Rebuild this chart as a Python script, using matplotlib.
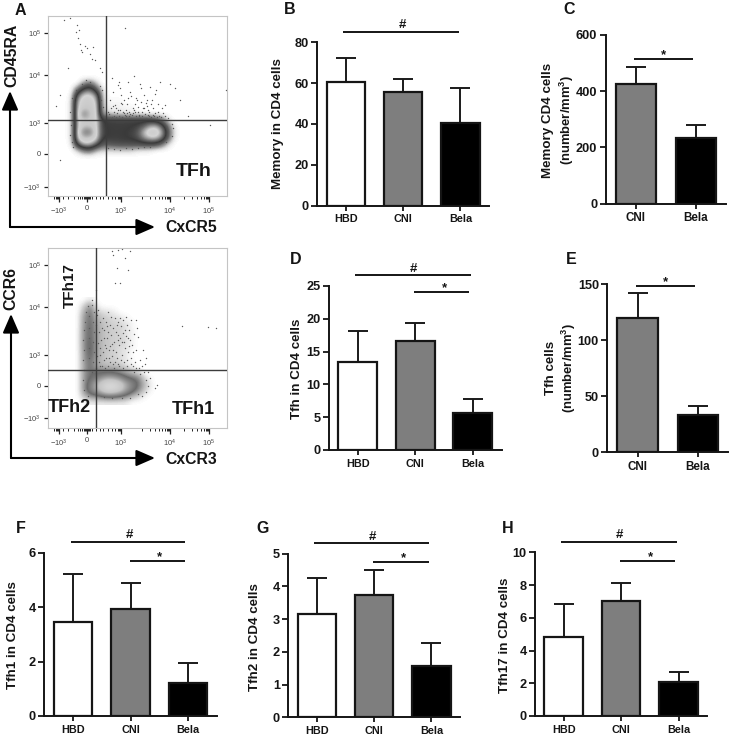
import matplotlib
matplotlib.use("Agg")
import matplotlib.pyplot as plt
from matplotlib.colors import LinearSegmentedColormap

W, H = 731, 736
plt.rcParams['font.family'] = ['Liberation Sans', 'DejaVu Sans']
plt.rcParams['font.weight'] = 'bold'
plt.rcParams['mathtext.fontset'] = 'custom'
plt.rcParams['mathtext.rm'] = 'Liberation Sans'
plt.rcParams['mathtext.bf'] = 'Liberation Sans:bold'
plt.rcParams['mathtext.default'] = 'regular'

groups3 = ['HBD', 'CNI', 'Bela']
groups2 = ['CNI', 'Bela']

memory_pct = [60.8, 55.5, 40.3]
memory_pct_top = [72.2, 62.0, 57.8]
memory_abs = [425, 232]
memory_abs_top = [487, 280]
tfh_pct = [13.4, 16.6, 5.7]
tfh_pct_top = [18.2, 19.3, 7.7]
tfh_abs = [120, 33.5]
tfh_abs_top = [142, 41.5]
tfh1_pct = [3.47, 3.92, 1.2]
tfh1_pct_top = [5.2, 4.87, 1.93]
tfh2_pct = [3.17, 3.75, 1.57]
tfh2_pct_top = [4.25, 4.5, 2.27]
tfh17_pct = [4.85, 7.0, 2.1]
tfh17_pct_top = [6.85, 8.1, 2.7]

# flow cytometry density (channel units, rows top to bottom)
tfh_x = (63, 183)
tfh_y = (75, 159)
tfh_density = [
 [0,0,0,0,0,0,0,0,0,0,0,0,0,0,0,0,0,0,0,0],
 [0,0,0,.2,.3,.1,0,0,0,0,0,0,0,0,0,0,0,0,0,0],
 [0,0,.3,.6,.7,.4,.05,0,0,0,0,0,0,0,0,0,0,0,0,0],
 [0,.03,.7,1,1,.8,.08,0,0,0,0,0,0,0,0,0,0,0,0,0],
 [0,.05,.9,1.05,1.05,.95,.1,.02,.02,.02,0,0,0,0,0,0,0,0,0,0],
 [0,.05,.95,1.1,1.1,1,.12,.03,.03,.03,.02,.02,0,0,0,0,0,0,0,0],
 [0,.05,.95,1.5,1.15,1,.2,.08,.06,.05,.04,.03,.02,.01,0,0,0,0,0,0],
 [0,.05,.95,1.1,1.1,1,.5,.48,.45,.45,.45,.45,.45,.45,.42,.35,.25,.05,0,0],
 [0,.05,.95,1.1,1.1,1,.52,.48,.48,.48,.48,.5,.52,.6,.8,.85,.6,.25,.02,0],
 [0,.05,.95,1.5,1.5,1,.55,.5,.48,.48,.5,.52,.6,.9,1.1,1.1,.85,.35,.05,0],
 [0,.05,.95,1.15,1.1,1,.5,.48,.48,.48,.5,.52,.58,.75,.9,.9,.7,.3,.03,0],
 [0,.03,.6,.9,.9,.65,.35,.35,.38,.4,.4,.4,.4,.42,.42,.4,.25,.06,0,0],
 [0,0,.08,.25,.3,.12,.08,.07,.08,.08,.08,.08,.04,.04,.03,0,0,0,0,0],
 [0,0,0,0,0,0,0,0,0,0,0,0,0,0,0,0,0,0,0,0],
]
tfh_events = [
 (64,20),(70,18),(76,32),(78,38),(80,44),(82,52),(85,46),(87,48),(90,54),(93,47),(95,60),(100,68),(77,25),(79,30),(81,50),(92,59),
 (125,28),(60,95),(56,106),(68,68),(102,72),(226,90),(210,125),(188,116),(60,160),
 (110,100),(113,92),(116,108),(119,82),(121,95),(123,112),(127,104),(129,112),(131,96),(133,108),(135,112),(137,100),(139,115),(141,88),(143,108),
 (145,114),(147,100),(149,112),(151,104),(153,115),(156,90),(159,116),(163,113),(114,116),(118,110),(122,104),(125,115),(129,116),(134,110),(139,116),
 (144,108),(149,116),(154,116),(112,78),(115,105),(118,85),(120,88),(124,100),(126,110),(128,82),(130,92),(132,115),(134,76),(136,98),(138,107),
 (140,84),(142,112),(144,95),(146,103),(148,110),(150,87),(152,100),(155,94),(158,112),(160,82),(162,108),(165,105),(170,84),(175,88),(180,100),
 (109,114),(111,108),(112,117),(114,112),(116,117),(117,113),(119,116),(120,110),(122,117),(124,113),(126,116),(127,113),(130,114),(131,118),(133,113),
 (136,116),(138,112),(140,118),(142,116),(146,118),(148,115),(151,117),(155,113),(157,117),(161,117),(165,116),(168,118),
 (108,112),(110,118),(113,106),(121,103),(128,98),(135,104),(141,102),(147,106),(153,108),(158,104),
 (72,98),(70,112),(71,125),(70,135),(72,142),(73,147),(101,100),(103,107),(102,90),(100,86),(90,82),(86,80),(82,84),(76,90),
 (108,148),(114,149),(120,150),(126,148),(132,149),(138,148),(144,147),(150,147),(160,143),(166,142),(172,136),(173,128),(172,124),
]
tfh_event_x = [p[0] for p in tfh_events]
tfh_event_y = [p[1] for p in tfh_events]

tfh_sub_x = (75, 159)
tfh_sub_y = (297, 405)
tfh_sub_density = [
 [0,0,.03,0,0,0,0,0,0,0,0,0,0,0],
 [0,.08,.22,.04,0,0,0,0,0,0,0,0,0,0],
 [0,.15,.3,.1,.06,.05,.03,0,0,0,0,0,0,0],
 [0,.2,.3,.16,.1,.08,.06,.05,.02,0,0,0,0,0],
 [0,.2,.32,.18,.12,.09,.08,.07,.05,.02,0,0,0,0],
 [0,.22,.32,.2,.12,.1,.08,.08,.05,.02,0,0,0,0],
 [0,.22,.32,.2,.12,.1,.08,.08,.05,.02,0,0,0,0],
 [0,.22,.34,.2,.12,.1,.08,.08,.06,.02,0,0,0,0],
 [0,.22,.34,.2,.12,.1,.08,.06,.05,.02,0,0,0,0],
 [0,.2,.34,.2,.12,.09,.08,.06,.04,0,0,0,0,0],
 [0,.2,.3,.18,.12,.09,.08,.06,.04,.01,0,0,0,0],
 [0,.18,.3,.18,.14,.12,.12,.1,.05,.02,0,0,0,0],
 [0,.2,.3,.28,.26,.26,.26,.22,.18,.12,.05,0,0,0],
 [0,.2,.3,.36,.5,.6,.55,.45,.32,.28,.25,.08,.01,0],
 [0,.2,.38,.6,.85,1,1,.85,.6,.42,.3,.15,.03,0],
 [0,.2,.4,.55,.8,1,.95,.8,.55,.38,.25,.1,.02,0],
 [0,.12,.22,.24,.3,.35,.35,.3,.24,.14,.08,.02,0,0],
 [0,0,.03,.03,.03,.03,.03,.03,.03,0,0,0,0,0],
]
sub_events = [
 (112,251),(118,250),(122,249),(113,255),(125,258),(117,268),(130,251),(115,283),(120,283),(128,270),(182,326),(208,327),(216,328),(92,300),(96,290),
 (98,310),(100,322),(104,330),(107,338),(110,325),(112,344),(115,318),(118,335),(121,326),(124,342),(126,317),(129,330),(131,320),(133,352),(136,320),
 (138,337),(140,360),(143,350),(146,358),(148,372),(150,378),(155,388),(157,385),(100,348),(103,352),(106,358),(110,362),(114,368),(118,340),(122,355),
 (127,360),(132,345),(135,362),(139,368),(97,315),(99,332),(101,340),(103,318),(105,345),(107,326),(108,312),(109,350),(111,335),(113,328),(114,342),
 (116,352),(117,325),(119,345),(120,318),(121,360),(123,333),(125,348),(127,325),(128,352),(130,340),(131,364),(134,334),(136,350),(137,328),(97,356),
 (99,362),(102,366),(104,360),(106,322),(108,366),(110,346),(112,356),(115,362),(117,358),(119,366),(122,342),(124,362),(126,336),(129,346),(133,366),
 (96,325),(98,343),(100,355),(102,328),(104,338),(106,348),(108,332),(111,317),(113,350),(116,332),(118,322),(120,338),(123,320),(125,330),(128,338),
 (96,368),(100,366),(105,368),(109,358),(113,364),(118,364),(123,368),(127,366),(131,358),(136,368),(142,366),(145,364),(144,372),(140,374),(134,372),
 (146,380),(148,386),(146,392),(142,396),(138,394),(130,398),(122,398),(112,398),(104,397),(96,396),(88,396),(84,390),(83,380),(84,370),(83,360),
 (84,350),(83,340),(84,330),(85,322),(86,312),(88,306),(92,305),(94,312),(93,322),(94,332),(93,342),(94,352),(93,362),(92,372),(89,316),(89,328),(89,338),(89,348),(89,358),
]
sub_event_x = [p[0] for p in sub_events]
sub_event_y = [p[1] for p in sub_events]

flow_tick_x = [59, 87, 121, 170, 209]
flow_tick_x_labels = [r'$-10^3$', '0', r'$10^3$', r'$10^4$', r'$10^5$']
flow_minor_x = [54,56,57,58,63,68,74,78,80,82,84,85,86,88,89,90,92,96,100,103,108,112,115,118,119,120,142,150,155,159,162,165,167,168,169,184,192,197,201,204,206,207,208]
tfh_tick_y = [187, 154, 123, 75, 33]
sub_tick_y = [418, 386, 355, 307, 265]
flow_tick_y_labels = [r'$-10^3$', '0', r'$10^3$', r'$10^4$', r'$10^5$']

density_cmap = LinearSegmentedColormap.from_list('flow', [
    (0.0, '#ffffff'), (0.03, '#e8e8e8'), (0.1, '#a0a0a0'), (0.2, '#606060'),
    (0.33, '#3a3a3a'), (0.45, '#707070'), (0.62, '#d4d4d4'), (0.75, '#c8c8c8'), (1.0, '#6e6e6e')])
sub_cmap = LinearSegmentedColormap.from_list('flow2', [
    (0.0, '#ffffff'), (0.08, '#d0d0d0'), (0.2, '#9a9a9a'), (0.3, '#6c6c6c'),
    (0.45, '#8c8c8c'), (0.7, '#c4c4c4'), (1.0, '#d8d8d8')])

fig = plt.figure(figsize=(W / 100, H / 100), dpi=100, facecolor='white')


def px_axes(left, right, top, bottom, **kw):
    return fig.add_axes([left / W, 1 - bottom / H, (right - left) / W, (bottom - top) / H], **kw)


def bar_panel(box, ymax, yticks, labels, vals, tops, colors, xtick_fs=7.8):
    left, right, top, bottom = box
    ax = px_axes(left, right, top, bottom, facecolor='none')
    xs = list(range(len(labels)))
    ax.errorbar(xs, vals, yerr=[[0] * len(vals), [t - v for t, v in zip(tops, vals)]], fmt='none',
                ecolor='#1a1a1a', elinewidth=1.4, capsize=7.2, capthick=1.4, zorder=1)
    ax.bar(xs, vals, width=0.67, color=colors, edgecolor='#151515', linewidth=1.6, zorder=2)
    ax.set_xlim(-0.5, len(labels) - 0.5)
    ax.set_ylim(0, ymax)
    ax.set_xticks(xs, labels, fontsize=xtick_fs + (0.6 if len(labels) == 2 else 0), fontweight='bold')
    ax.set_yticks(yticks, [str(t) for t in yticks], fontsize=9.2, fontweight='bold')
    ax.tick_params(axis='y', length=4.5, width=1.3, pad=1.5, color='#151515')
    ax.tick_params(axis='x', length=3.5, width=1.3, pad=2.8, color='#151515')
    for s in ['top', 'right']:
        ax.spines[s].set_visible(False)
    for s in ['left', 'bottom']:
        ax.spines[s].set_linewidth(1.4)
        ax.spines[s].set_color('#151515')
    for t in ax.get_xticklabels() + ax.get_yticklabels():
        t.set_color('#151515')
    return ax


c3 = ['white', '#7e7e7e', 'black']
c2 = ['#7e7e7e', 'black']
bar_panel((317.3, 489, 42.3, 205.7), 80, [0, 20, 40, 60, 80], groups3, memory_pct, memory_pct_top, c3)
bar_panel((605.7, 726, 34.7, 203.7), 600, [0, 200, 400, 600], groups2, memory_abs, memory_abs_top, c2)
bar_panel((329, 501.5, 286, 450), 25, [0, 5, 10, 15, 20, 25], groups3, tfh_pct, tfh_pct_top, c3)
bar_panel((607.3, 728.3, 284, 452.3), 150, [0, 50, 100, 150], groups2, tfh_abs, tfh_abs_top, c2)
bar_panel((44.3, 216.7, 552.7, 716), 6, [0, 2, 4, 6], groups3, tfh1_pct, tfh1_pct_top, c3)
bar_panel((288.3, 460, 553.7, 717.3), 5, [0, 1, 2, 3, 4, 5], groups3, tfh2_pct, tfh2_pct_top, c3)
bar_panel((535, 707.3, 552.3, 716), 10, [0, 2, 4, 6, 8, 10], groups3, tfh17_pct, tfh17_pct_top, c3)


def flow_panel(top, bottom, grid, gx, gy, ex, ey, gate_x, gate_y, yticks, cmap, vmax):
    left, right = 47.7, 226.7
    ax = px_axes(left, right, top, bottom, facecolor='white')
    ax.imshow(grid, extent=(gx[0], gx[1], gy[1], gy[0]), cmap=cmap, vmin=0, vmax=vmax,
              interpolation='bicubic', aspect='auto', zorder=1)
    ax.scatter(ex, ey, s=1.0, c='#5a5a5a', linewidths=0, zorder=2)
    ax.axvline(gate_x, color='#3c3c3c', lw=1.0, zorder=3)
    ax.axhline(gate_y, color='#3c3c3c', lw=1.0, zorder=3)
    ax.set_xlim(left, right)
    ax.set_ylim(bottom, top)
    ax.set_xticks(flow_tick_x, flow_tick_x_labels, fontsize=5.4, fontweight='normal', color='#444444')
    ax.set_xticks(flow_minor_x, minor=True)
    ax.set_yticks(yticks, flow_tick_y_labels, fontsize=5.4, fontweight='normal', color='#444444')
    ax.tick_params(axis='both', which='major', length=4, width=0.9, color='#222222', pad=3)
    ax.tick_params(axis='y', which='major', length=3, pad=2)
    ax.tick_params(axis='x', which='minor', length=2.5, width=0.7, color='#222222')
    for s in ax.spines.values():
        s.set_color('#c4c4c4')
        s.set_linewidth(0.8)
    return ax


flow_panel(16, 195.7, tfh_density, tfh_x, tfh_y, tfh_event_x, tfh_event_y, 106, 120, tfh_tick_y, density_cmap, 1.5)
flow_panel(248, 427.7, tfh_sub_density, tfh_sub_x, tfh_sub_y, sub_event_x, sub_event_y, 95.7, 370, sub_tick_y, sub_cmap, 1.0)

# annotation layer in picture pixels
ov = fig.add_axes([0, 0, 1, 1], facecolor='none')
ov.set_xlim(0, W)
ov.set_ylim(H, 0)
ov.axis('off')


def label(x, y, s, fs, rot=0, **kw):
    ov.text(x, y, s, fontsize=fs, rotation=rot, ha='center', va='center_baseline', fontweight='bold',
            color='#151515', rotation_mode='anchor', **kw)


def bracket(x0, x1, y, sym, sx, sy):
    ov.plot([x0, x1], [y, y], color='#151515', lw=1.4, solid_capstyle='butt')
    label(sx, sy, sym, 9.5)


for s, x, y in [('A', 20, 9), ('B', 290, 8), ('C', 569, 8), ('D', 296, 258), ('E', 571, 258),
                ('F', 21, 527), ('G', 263, 527), ('H', 508, 527)]:
    label(x, y, s, 11.5)

bracket(343, 458.7, 31.7, '#', 402, 24)
bracket(634, 693.3, 58.7, '*', 663.7, 54)
bracket(355, 470.7, 275, '#', 413, 268)
bracket(414.3, 469.3, 292, '*', 444, 287)
bracket(635.7, 695.3, 286, '*', 665, 281)
bracket(70.7, 185.3, 542, '#', 129, 533)
bracket(129.7, 184.7, 560.7, '*', 159, 555.5)
bracket(313.7, 429.3, 543.3, '#', 372.7, 535)
bracket(373.3, 428.7, 562, '*', 403, 557)
bracket(561.3, 676.7, 542, '#', 619.7, 533)
bracket(620.3, 675.3, 560.7, '*', 650, 555.5)

label(276, 124, 'Memory in CD4 cells', 9.6, 90)
label(546, 120, 'Memory CD4 cells', 9.6, 90)
label(564, 120, r'(number/mm$\mathbf{^3}$)', 9.4, 90)
label(295, 369, 'Tfh in CD4 cells', 9.6, 90)
label(550, 368, 'Tfh cells', 9.6, 90)
label(566, 368, r'(number/mm$\mathbf{^3}$)', 9.4, 90)
label(12, 635, 'Tfh1 in CD4 cells', 9.6, 90)
label(254, 637, 'Tfh2 in CD4 cells', 9.6, 90)
label(503, 635, 'Tfh17 in CD4 cells', 9.6, 90)

label(10, 55, 'CD45RA', 11.4, 90)
label(9, 288, 'CCR6', 11.4, 90)
label(191, 226, 'CxCR5', 11.3)
label(191, 458, 'CxCR3', 11.3)
label(194, 170, 'TFh', 14)
label(68, 286, 'TFh17', 11, 90)
label(69, 405, 'TFh2', 13)
label(193, 408, 'TFh1', 13)

for (x0, y0, x1, y1) in [(10, 227, 10, 91), (10, 227, 155, 227), (11, 458, 11, 314), (11, 458, 155, 458)]:
    ov.annotate('', xy=(x1, y1), xytext=(x0, y0),
                arrowprops=dict(arrowstyle='-|>,head_length=1.15,head_width=0.5', color='black', lw=1.5,
                                shrinkA=0, shrinkB=0, mutation_scale=10))

fig.savefig('out.png', dpi=100)
